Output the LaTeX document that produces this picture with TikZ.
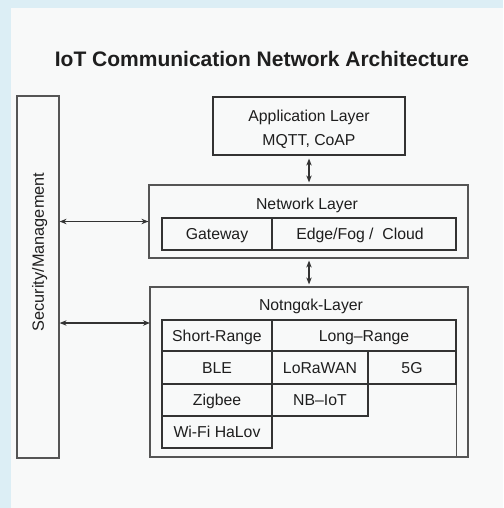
\documentclass[tikz,border=0pt]{standalone}
\usepackage{fontspec}
\setmainfont{Liberation Sans}
\usetikzlibrary{arrows.meta}
\definecolor{bgblue}{HTML}{DCEEF5}
\definecolor{panel}{HTML}{F8F9F9}
\definecolor{linec}{HTML}{333333}
\definecolor{linel}{HTML}{555555}
\definecolor{txt}{HTML}{1E1E1E}
\begin{document}
\begin{tikzpicture}[x=1pt,y=-1pt,
  box/.style={draw=linel,line width=1.2pt,inner sep=0pt,minimum width=#1},
  cell/.style={draw=linec,line width=1.2pt,inner sep=0pt,text=txt,text height=11.3pt,text depth=0pt,font=\fontsize{15.8}{18}\selectfont},
  lbl/.style={inner sep=0pt,text=txt,text height=11.3pt,text depth=0pt,font=\fontsize{15.8}{18}\selectfont},
  conn/.style={draw=linec,line width=1.1pt,{Stealth[length=7pt,width=5.5pt]}-{Stealth[length=7pt,width=5.5pt]}}
]
\fill[bgblue] (0,0) rectangle (503,508);
\fill[panel] (11,8) rectangle (503,508);
\useasboundingbox (0,0) rectangle (503,508);

\node[inner sep=0pt,text=txt,text height=15pt,text depth=0pt,font=\fontsize{21}{24}\selectfont\bfseries] (title) at (262,59) {IoT Communication Network Architecture};

% security
\node[box=42pt,minimum height=362pt] (sec) at (38,277) {};
\node[lbl,rotate=90,text height=11.8pt,font=\fontsize{16.3}{18}\selectfont] (seclbl) at (38,252) {Security/Management};

% application
\node[box=192pt,minimum height=58pt,draw=linec] (app) at (309,126) {};
\node[lbl] (applbl) at (309,116) {Application Layer};
\node[lbl] (appsub) at (309,140) {MQTT, CoAP};

% network
\node[box=319pt,minimum height=73pt] (net) at (308.5,221.5) {};
\node[lbl] (netlbl) at (307,204) {Network Layer};
\node[cell,minimum width=110pt,minimum height=32pt] (gw) at (217,234) {Gateway};
\node[cell,minimum width=184pt,minimum height=32pt] (edge) at (364,234) {\hspace*{-8pt}Edge/Fog /\ \ Cloud};

% bottom
\node[box=318pt,minimum height=170pt] (bot) at (309,372) {};
\node[lbl] (botlbl) at (311,305) {Notngαk-Layer};
\node[cell,minimum width=110pt,minimum height=31pt] (sr) at (217,335.5) {Short-Range};
\node[cell,minimum width=184pt,minimum height=31pt] (lr) at (364,335.5) {Long–Range};
\node[cell,minimum width=110pt,minimum height=33pt] (ble) at (217,367.5) {BLE};
\node[cell,minimum width=96pt,minimum height=33pt] (lora) at (320,367.5) {LoRaWAN};
\node[cell,minimum width=88pt,minimum height=33pt] (g5) at (412,367.5) {5G};
\node[cell,minimum width=110pt,minimum height=32pt] (zig) at (217,400) {Zigbee};
\node[cell,minimum width=96pt,minimum height=32pt] (nb) at (320,400) {NB–IoT};
\node[cell,minimum width=110pt,minimum height=32pt] (wifi) at (217,432) {Wi-Fi HaLov};
\draw[draw=linel,line width=1.2pt] (g5.south east) -- (g5.south east |- bot.south);

% connectors
\coordinate (a2) at (150,323);
\draw[conn] (sec.east |- net.west) -- (net.west);
\draw[conn] (sec.east |- a2) -- (a2);
\draw[conn,shorten <=3pt,shorten >=2pt] (app.south) -- (app.south |- net.north);
\draw[conn,shorten <=2pt,shorten >=2pt] (app.south |- net.south) -- (app.south |- bot.north);
\end{tikzpicture}
\end{document}
